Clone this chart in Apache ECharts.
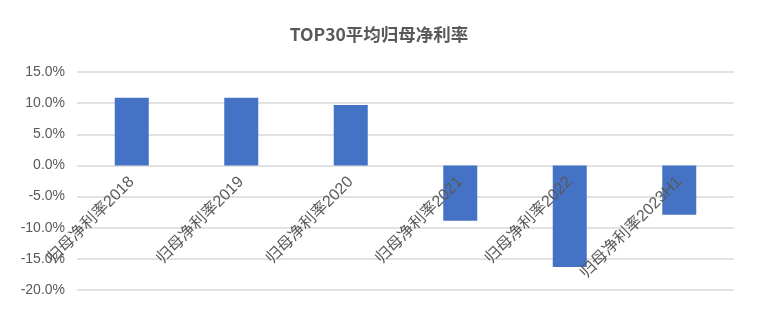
<!DOCTYPE html>
<html><head><meta charset="utf-8">
<script src="https://cdn.jsdelivr.net/npm/echarts@6/dist/echarts.min.js"></script>
<style>html,body{margin:0;padding:0;background:#fff}#c{width:758px;height:322px}</style>
</head><body><div id="c"></div>
<script>
const titleText = 'TOP30平均归母净利率';
const categories = ['归母净利率2018','归母净利率2019','归母净利率2020','归母净利率2021','归母净利率2022','归母净利率2023H1'];
const values = [10.85, 10.85, 9.7, -8.9, -16.3, -7.9];
const yTicks = {min: -20, max: 15, interval: 5};

const gridTop = 72, gridBottom = 32, H = 322;
const gridH = H - gridTop - gridBottom;
const zeroOffset = gridH * (0 - yTicks.min) / (yTicks.max - yTicks.min);

const chart = echarts.init(document.getElementById('c'));
chart.setOption({
  animation: false,
  title: {text: titleText, left: 'center', top: 21,
    textStyle: {fontFamily: '"Noto Sans CJK SC", "Liberation Sans", sans-serif', fontSize: 17.5, fontWeight: 'bold', color: '#595959'}},
  grid: {left: 77, right: 24, top: gridTop, bottom: gridBottom, containLabel: false, outerBoundsMode: 'none'},
  xAxis: {type: 'category', data: categories, position: 'bottom', offset: -zeroOffset, z: 10,
    axisLine: {show: false, onZero: false}, axisTick: {show: false},
    axisLabel: {rotate: 45, margin: 14, color: '#595959', fontSize: 16,
      fontFamily: '"Liberation Sans", "Noto Sans CJK SC", sans-serif', interval: 0}},
  yAxis: {type: 'value', min: yTicks.min, max: yTicks.max, interval: yTicks.interval,
    axisLine: {show: false}, axisTick: {show: false},
    splitLine: {lineStyle: {color: '#D9D9D9', width: 1.5}},
    axisLabel: {margin: 12, color: '#595959', fontSize: 14, fontFamily: '"Liberation Sans", sans-serif',
      formatter: v => v.toFixed(1) + '%'}},
  series: [{type: 'bar', data: values, barWidth: 34, itemStyle: {color: '#4472C4'}, z: 1}]
});
</script></body></html>
